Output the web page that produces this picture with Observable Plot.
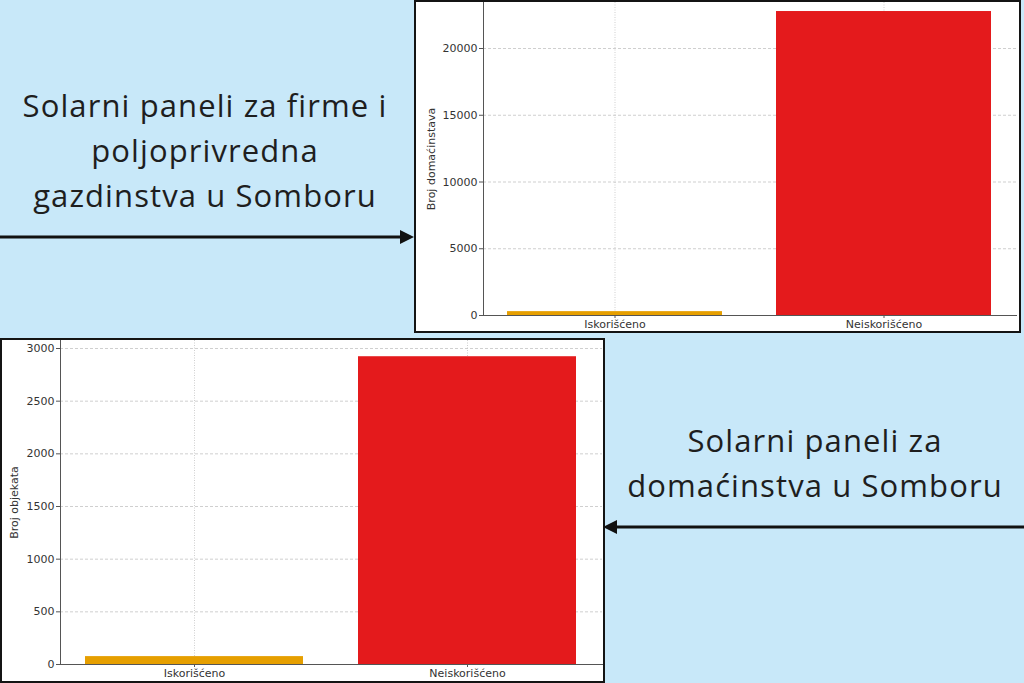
<!DOCTYPE html>
<html>
<head>
<meta charset="utf-8">
<script src="https://cdn.jsdelivr.net/npm/d3@7"></script>
<script src="https://cdn.jsdelivr.net/npm/@observablehq/plot@0.6"></script>
<style>
  html, body { margin: 0; padding: 0; overflow: hidden; }
  #stage { position: relative; width: 1024px; height: 683px; background: #C8E8F9; overflow: hidden; }
  .panel { position: absolute; background: #fff; border: 2px solid #141414; box-sizing: border-box; overflow: hidden; }
  .panel svg { display: block; }
  .caption { position: absolute; text-align: center; font-family: "Open Sans", sans-serif; color: #1e1e1e; font-size: 31px; line-height: 45px; letter-spacing: 1.1px; white-space: nowrap; }
  #arrows { position: absolute; left: 0; top: 0; }
</style>
</head>
<body>
<div id="stage">
  <div class="caption" id="cap1" style="left:0; top:83px; width:410px;"></div>
  <div class="caption" id="cap2" style="left:606px; top:418px; width:418px;"></div>
  <div class="panel" id="p1" style="left:414px; top:0; width:607px; height:333px;"></div>
  <div class="panel" id="p2" style="left:0; top:338px; width:605px; height:345px;"></div>
  <svg id="arrows" width="1024" height="683">
    <line x1="0" y1="237" x2="402" y2="237" stroke="#111" stroke-width="3"/>
    <path d="M414,237 L400,230 L400,244 Z" fill="#111"/>
    <line x1="1024" y1="527" x2="615" y2="527" stroke="#111" stroke-width="3"/>
    <path d="M603,527 L617,520 L617,534 Z" fill="#111"/>
  </svg>
</div>
<script>
// ---- data ----
const categories = ["Iskorišćeno", "Neiskorišćeno"];
const householdsValues = [290, 22770];   // top chart: Broj domaćinstava
const objectsValues = [75, 2922];        // bottom chart: Broj objekata
const householdsTicks = [0, 5000, 10000, 15000, 20000];
const objectsTicks = [0, 500, 1000, 1500, 2000, 2500, 3000];
const barColors = ["#E69F00", "#E41A1C"];
const caption1 = ["Solarni paneli za firme i", "poljoprivredna", "gazdinstva u Somboru"];
const caption2 = ["Solarni paneli za", "domaćinstva u Somboru"];
const yLabel1 = "Broj domaćinstava";
const yLabel2 = "Broj objekata";

document.getElementById("cap1").innerHTML = caption1.join("<br>");
document.getElementById("cap2").innerHTML = caption2.join("<br>");

function makeChart({values, ticks, label, width, height, marginLeft, marginRight, marginBottom, yMax, labelOffset}) {
  const data = categories.map((c, i) => ({cat: c, value: values[i]}));
  return Plot.plot({
    width, height,
    marginLeft, marginRight, marginTop: 0, marginBottom,
    style: {fontFamily: "DejaVu Sans, sans-serif", fontSize: "11px", color: "#333", background: "#fff"},
    x: {domain: categories, paddingInner: 0.2, paddingOuter: 0.09},
    y: {domain: [0, yMax]},
    color: {domain: categories, range: barColors},
    marks: [
      Plot.gridY(ticks, {stroke: "#bbb", strokeOpacity: 0.7, strokeDasharray: "3,2"}),
      Plot.gridX(categories, {stroke: "#bbb", strokeOpacity: 0.7, strokeDasharray: "1,1.5"}),
      Plot.barY(data, {x: "cat", y: "value", fill: "cat"}),
      Plot.frame({anchor: "left", stroke: "#555"}),
      Plot.frame({anchor: "bottom", stroke: "#555"}),
      Plot.axisY({ticks, tickSize: 4, tickPadding: 2, tickFormat: d3.format("d"), label,
        labelAnchor: "center", labelArrow: "none", labelOffset, fontSize: 11, stroke: "#555"}),
      Plot.axisX({tickSize: 3, tickPadding: 2, label: null, fontSize: 11, stroke: "#555"})
    ]
  });
}

document.getElementById("p1").appendChild(makeChart({
  values: householdsValues, ticks: householdsTicks, label: yLabel1,
  width: 603, height: 329, marginLeft: 67, marginRight: 3, marginBottom: 16,
  yMax: 23446, labelOffset: 56
}));
document.getElementById("p2").appendChild(makeChart({
  values: objectsValues, ticks: objectsTicks, label: yLabel2,
  width: 601, height: 341, marginLeft: 58, marginRight: 1, marginBottom: 17,
  yMax: 3076, labelOffset: 50
}));
</script>
</body>
</html>
